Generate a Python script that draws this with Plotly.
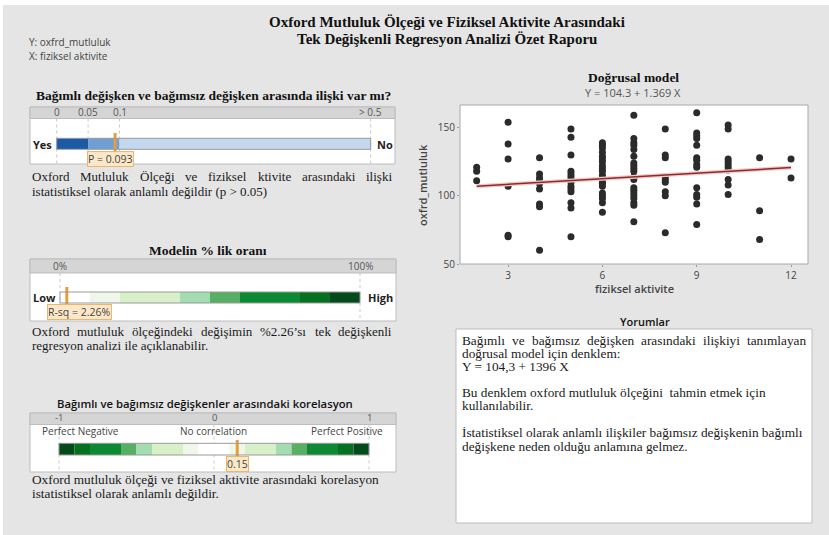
import plotly.graph_objects as go

W, H = 829, 535


def px(x):
    return x / W


def py(y):
    return 1 - y / H


# ---------------- data ----------------
activity_levels = [2, 3, 4, 5, 6, 7, 8, 9, 10, 11, 12]
oxford_scores = [
    [121, 118, 111],
    [154, 138, 127, 107, 71, 70],
    [128, 116, 113, 111, 109, 105, 94, 92, 60],
    [149, 143, 130, 118, 116, 114, 112, 110, 107, 105, 103, 95, 91, 70],
    [139, 137, 135, 132, 129, 127, 125, 122, 120, 118, 115, 113, 110, 109, 107, 102, 100, 98, 95, 88],
    [159, 142, 139, 137, 134, 129, 124, 122, 120, 118, 114, 112, 106, 104, 102, 100, 98, 95, 93, 81],
    [149, 130, 128, 114, 112, 110, 103, 100, 73],
    [161, 146, 144, 142, 137, 128, 126, 123, 121, 106, 101, 99, 94, 79],
    [152, 149, 127, 125, 123, 121, 119, 112, 108, 101],
    [128, 89, 68],
    [127, 113],
]
intercept = 104.3
slope = 1.369
x_ticks = [3, 6, 9, 12]
y_ticks = [50, 100, 150]

p_bands = [0, 0.05, 0.1, 0.5]
p_value = 0.093
p_ticks = [0, 0.05, 0.1, 0.5]
p_ticktext = ["0", "0.05", "0.1", "> 0.5"]

rsq_bands = [0, 10, 20, 40, 50, 60, 80, 90, 100]
rsq_value = 2.26
rsq_ticks = [0, 100]
rsq_ticktext = ["0%", "100%"]

corr_bands = [-1, -0.9, -0.8, -0.6, -0.5, -0.4, -0.2, -0.1, 0, 0.1, 0.2, 0.4, 0.5, 0.6, 0.8, 0.9, 1]
corr_value = 0.15
corr_ticks = [-1, 0, 1]
corr_ticktext = ["-1", "0", "1"]

# ---------------- styles ----------------
BG = "#e5e5e5"
HDR = "#d5d5d5"
BORDER = "#bdbdbd"
SERIF = "Liberation Serif"
SANS = "Open Sans"
ORANGE = "#e3a03a"
blue_colors = ["#1b5ba5", "#6f9fd5", "#c3d7ef"]
green_colors = ["#ffffff", "#eef7ea", "#d8f0c8", "#a4dcb1", "#57af64", "#0b8a33", "#047020", "#054a1b"]
corr_colors = list(reversed(green_colors)) + green_colors

fig = go.Figure()
shapes = []
annotations = []


def rect(x0, y0, x1, y1, fill, line=None, lw=1, layer="below"):
    shapes.append(dict(type="rect", xref="paper", yref="paper",
                       x0=px(x0), x1=px(x1), y0=py(y1), y1=py(y0),
                       fillcolor=fill, layer=layer,
                       line=dict(color=line or fill, width=lw if line else 0)))


def txt(x, y, s, size=13, family=SERIF, color="#1a1a1a", anchor="left", bold=False,
        weight=None, angle=0, xref="paper", yref="paper"):
    if bold:
        s = "<b>" + s + "</b>"
    f = dict(family=family, size=size, color=color)
    if weight:
        f["weight"] = weight
    annotations.append(dict(
        x=px(x) if xref == "paper" else x, y=py(y) if yref == "paper" else y,
        xref=xref, yref=yref, text=s, showarrow=False, xanchor=anchor, yanchor="middle",
        font=f, borderpad=0, borderwidth=0, textangle=angle))


# Times widths (per 1000 em) for justification
TW = {' ': 250, 'a': 444, 'b': 500, 'c': 444, 'd': 500, 'e': 444, 'f': 333, 'g': 500, 'h': 500,
      'i': 278, 'j': 278, 'k': 500, 'l': 278, 'm': 778, 'n': 500, 'o': 500, 'p': 500, 'q': 500,
      'r': 333, 's': 389, 't': 278, 'u': 500, 'v': 500, 'w': 722, 'x': 500, 'y': 500, 'z': 444,
      'ı': 278, 'ğ': 500, 'ş': 389, 'ç': 444, 'ö': 500, 'ü': 500,
      'O': 722, 'M': 889, 'Ö': 722, 'B': 667, 'Y': 722, 'X': 722, 'İ': 333,
      '.': 250, ',': 250, '%': 833, '’': 333, '(': 333, ')': 333, ':': 278,
      '>': 564, '=': 564, '+': 564}


def tw(s, size):
    return sum(TW.get(c, 500) for c in s) * size / 1000


def justify(line, x0, x1, y, size=13):
    words = line.split(" ")
    ws = [tw(w, size) for w in words]
    gap = (x1 - x0 - sum(ws)) / (len(words) - 1)
    x = x0
    for i, (w, wd) in enumerate(zip(words, ws)):
        if i == len(words) - 1:
            txt(x1, y, w, size=size, anchor="right")
        else:
            txt(x, y, w, size=size)
        x += wd + gap


# page background
rect(3, 5, 829, 535, BG)

# ---------------- header ----------------
txt(447, 22, "Oxford Mutluluk Ölçeği ve Fiziksel Aktivite Arasındaki", size=15, bold=True, anchor="center", color="#111")
txt(447, 39, "Tek Değişkenli Regresyon Analizi Özet Raporu", size=15, bold=True, anchor="center", color="#111")
txt(29, 42, "Y: oxfrd_mutluluk", size=10, family=SANS, color="#444")
txt(29, 56, "X: fiziksel aktivite", size=10, family=SANS, color="#444")


# ---------------- gauges ----------------
def add_gauge(n, bands, colors, value, label, label_shift, v0, p0, v1, p1,
              box_l, box_r, hdr_top, white_top, white_bot, bar_top, bar_bot,
              mk_top, mk_bot, lab_y, ticks, ticktext, tick_y, dashed, tick_size=10):
    scale = (p1 - p0) / (v1 - v0)
    rl = v0 - (p0 - box_l) / scale
    rr = v1 + (box_r - p1) / scale
    xa, ya = f"x{n}", f"y{n}"
    fig.update_layout(**{
        f"xaxis{n}": dict(domain=[px(box_l), px(box_r)], range=[rl, rr], visible=False,
                          fixedrange=True, anchor=ya, automargin=False),
        f"yaxis{n}": dict(domain=[py(white_bot), py(white_top)], range=[white_bot, white_top],
                          visible=False, fixedrange=True, anchor=xa, automargin=False),
    })
    rect(box_l, hdr_top, box_r, white_bot, "#ffffff", BORDER, 1)
    rect(box_l, hdr_top, box_r, white_top, HDR, BORDER, 1)
    for d in dashed:
        shapes.append(dict(type="line", xref=xa, yref=ya, x0=d, x1=d, y0=white_top, y1=white_bot,
                           line=dict(color="#c9c9c9", width=1, dash="dot"), layer="below"))
    bases = bands[:-1]
    widths = [b - a for a, b in zip(bands[:-1], bands[1:])]
    fig.add_trace(go.Bar(orientation="h", y=[(bar_top + bar_bot) / 2] * len(widths), x=widths,
                         base=bases, width=bar_bot - bar_top,
                         marker=dict(color=colors, line=dict(width=0)),
                         xaxis=xa, yaxis=ya, showlegend=False, hoverinfo="skip"))
    shapes.append(dict(type="rect", xref=xa, yref=ya, x0=bands[0], x1=bands[-1], y0=bar_top, y1=bar_bot,
                       line=dict(color="#9a9a9a", width=1)))
    fig.add_trace(go.Scatter(x=[value, value], y=[mk_top, mk_bot], mode="lines",
                             line=dict(color=ORANGE, width=3), xaxis=xa, yaxis=ya,
                             showlegend=False, hoverinfo="skip"))
    annotations.append(dict(x=value, y=lab_y, xref=xa, yref=ya, text=label, showarrow=False,
                            xanchor="center", yanchor="middle", xshift=label_shift,
                            bgcolor="#fce8c8", bordercolor="#e8b86e", borderwidth=1, borderpad=0,
                            font=dict(family=SANS, size=10.5, color="#444")))
    for t, tt in zip(ticks, ticktext):
        annotations.append(dict(x=t, y=py(tick_y), xref=xa, yref="paper", text=tt, showarrow=False,
                                xanchor="center", yanchor="middle", borderpad=0,
                                font=dict(family=SANS, size=tick_size, color="#555")))


fig.update_layout(barmode="overlay")

# Gauge 1: p-value
txt(213, 95, "Bağımlı değişken ve bağımsız değişken arasında ilişki var mı?", size=13.5, bold=True, anchor="center", color="#111")
add_gauge(2, p_bands, blue_colors, p_value, "P = 0.093", -5, 0, 56.7, 0.5, 370.7,
          30, 395, 107, 118.5, 164, 138.3, 149.3, 133, 153, 158.5,
          p_ticks, p_ticktext, 112.5, p_bands)
txt(33, 144, "Yes", size=11, family=SANS, bold=True, color="#222")
txt(393, 144, "No", size=11, family=SANS, bold=True, color="#222", anchor="right")
justify("Oxford Mutluluk Ölçeği ve fiziksel ktivite arasındaki ilişki", 32, 392, 176.5)
txt(32, 191.5, "istatistiksel olarak anlamlı değildir (p > 0.05)")

# Gauge 2: R-sq
txt(208, 250, "Modelin % lik oranı", size=13.5, bold=True, anchor="center", color="#111")
add_gauge(3, rsq_bands, green_colors, rsq_value, "R-sq = 2.26%", 13, 0, 60, 100, 360,
          30, 396, 259, 273, 321, 292, 303, 287, 306, 312,
          rsq_ticks, rsq_ticktext, 266, rsq_ticks)
txt(33, 297.5, "Low", size=11, family=SANS, bold=True, color="#222")
txt(393, 297.5, "High", size=11, family=SANS, bold=True, color="#222", anchor="right")
justify("Oxford mutluluk ölçeğindeki değişimin %2.26’sı tek değişkenli", 32, 392, 331)
txt(32, 345.5, "regresyon analizi ile açıklanabilir.")

# Gauge 3: correlation
txt(205, 403, "Bağımlı ve bağımsız değişkenler arasındaki korelasyon", size=11.3, family=SANS, weight=600, anchor="center", color="#111")
add_gauge(4, corr_bands, corr_colors, corr_value, "0.15", 0, -1, 59, 1, 369,
          30, 396, 413, 424.5, 472, 443.3, 455, 440, 459, 463.5,
          corr_ticks, corr_ticktext, 417.5, corr_ticks, tick_size=9.5)
txt(80, 430.5, "Perfect Negative", size=10, family=SANS, color="#444", anchor="center")
txt(213, 430.5, "No correlation", size=10, family=SANS, color="#444", anchor="center")
txt(347, 430.5, "Perfect Positive", size=10, family=SANS, color="#444", anchor="center")
txt(32, 479.5, "Oxford mutluluk ölçeği ve fiziksel aktivite arasındaki korelasyon", size=13.3)
txt(32, 493, "istatistiksel olarak anlamlı değildir.", size=13.3)

# ---------------- scatter ----------------
txt(633, 78, "Doğrusal model", size=13.5, bold=True, anchor="center", color="#111")
txt(633, 92, f"Y = {intercept} + {slope} X", size=11, family=SANS, color="#555", anchor="center")
rect(460, 105, 808, 264, "#ffffff", "#a8a8a8", 1)

xs, ys = [], []
for lvl, vals in zip(activity_levels, oxford_scores):
    xs += [lvl] * len(vals)
    ys += vals
fig.add_trace(go.Scatter(x=xs, y=ys, mode="markers", marker=dict(size=7, color="#2b2b2b"),
                         showlegend=False, hoverinfo="skip"))
lx = [min(activity_levels), max(activity_levels)]
fig.add_trace(go.Scatter(x=lx, y=[intercept + slope * v for v in lx], mode="lines",
                         line=dict(color="#f2c9c9", width=4), showlegend=False, hoverinfo="skip"))
fig.add_trace(go.Scatter(x=lx, y=[intercept + slope * v for v in lx], mode="lines",
                         line=dict(color="#8e2a2a", width=1.5), showlegend=False, hoverinfo="skip"))

fig.update_layout(
    xaxis=dict(domain=[px(460), px(808)], range=[1.47, 12.54], tickvals=x_ticks, showgrid=False,
               zeroline=False, showline=False, ticks="outside", ticklen=2, tickcolor="#999",
               tickfont=dict(family=SANS, size=10, color="#444"), fixedrange=True, anchor="y",
               automargin=False),
    yaxis=dict(domain=[py(264), py(105)], range=[50, 166.6], tickvals=y_ticks, showgrid=False,
               zeroline=False, showline=False, ticks="outside", ticklen=2, tickcolor="#999",
               tickfont=dict(family=SANS, size=10, color="#444"), fixedrange=True, anchor="x",
               automargin=False),
)
txt(634, 288, "fiziksel aktivite", size=11, family=SANS, weight=600, color="#444", anchor="center")
txt(423, 185, "oxfrd_mutluluk", size=11, family=SANS, weight=600, color="#444", anchor="center", angle=-90)

# ---------------- Yorumlar ----------------
txt(645, 321, "Yorumlar", size=11, family=SANS, weight=600, anchor="center", color="#111")
rect(456, 329, 812, 523, "#ffffff", BORDER, 1)
justify("Bağımlı ve bağımsız değişken arasındaki ilişkiyi tanımlayan", 462, 806, 340, size=13.3)
txt(462, 353, "doğrusal model için denklem:", size=13.3)
txt(462, 366.5, "Y = 104,3 + 1396 X", size=13.3)
txt(462, 392, "Bu denklem oxford mutluluk ölçeğini&nbsp; tahmin etmek için", size=13.3)
txt(462, 405.5, "kullanılabilir.", size=13.3)
txt(462, 432.5, "İstatistiksel olarak anlamlı ilişkiler bağımsız değişkenin bağımlı", size=13.3)
txt(462, 446, "değişkene neden olduğu anlamına gelmez.", size=13.3)

fig.update_layout(
    width=W, height=H, margin=dict(l=0, r=0, t=0, b=0, pad=0, autoexpand=False),
    paper_bgcolor="#ffffff", plot_bgcolor="rgba(0,0,0,0)",
    shapes=shapes, annotations=annotations, showlegend=False,
)
post = (
    "document.documentElement.style.margin='0';document.body.style.margin='0';"
    "document.documentElement.style.overflow='hidden';document.body.style.overflow='hidden';"
    "var gd=document.getElementById('{plot_id}');"
    "gd.style.position='fixed';gd.style.top='0px';gd.style.left='0px';"
)
fig.write_html("out.html", config={"displayModeBar": False}, post_script=post)
